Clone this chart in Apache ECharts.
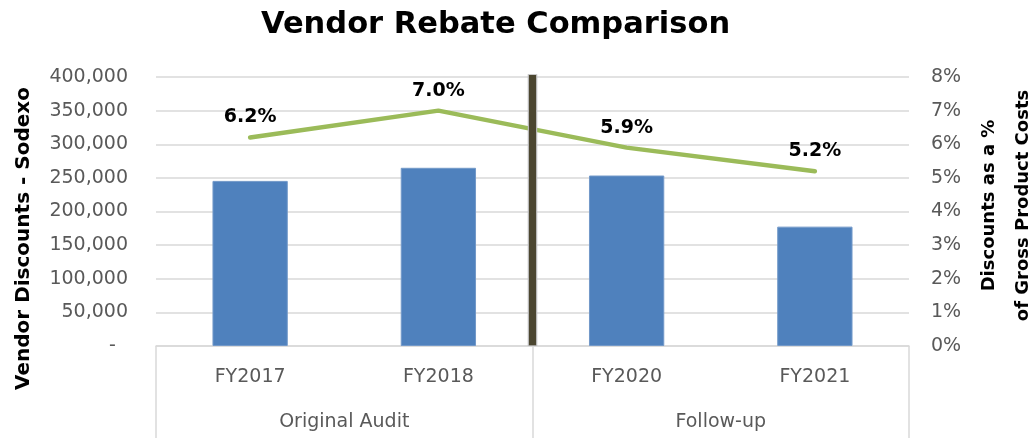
<!DOCTYPE html>
<html>
<head>
<meta charset="utf-8">
<script src="https://cdn.jsdelivr.net/npm/echarts@6/dist/echarts.min.js"></script>
<style>
  html, body { margin: 0; padding: 0; background: #fff; }
  #chart { width: 1033px; height: 438px; }
</style>
</head>
<body>
<div id="chart"></div>
<script>
// values
const years = ['FY2017', 'FY2018', 'FY2020', 'FY2021'];
const groups = ['Original Audit', 'Follow-up'];
const discounts = [245500, 265000, 253500, 177500];
const discountPct = [6.2, 7.0, 5.9, 5.2];
const dividerAt = 2; // boundary between the two groups (category units)

const font = 'DejaVu Sans';
const grey = '#595959';
const gridGrey = '#d9d9d9';

let myChart = echarts.init(document.getElementById('chart'));

myChart.setOption({
  animation: false,
  textStyle: { fontFamily: font },
  title: {
    text: 'Vendor Rebate Comparison',
    left: 256,
    top: 5,
    textStyle: { fontFamily: font, fontSize: 30.5, fontWeight: 'bold', color: '#000' }
  },
  grid: { left: 156, right: 124, top: 77, bottom: 92, outerBoundsMode: 'none' },
  xAxis: [
    {
      type: 'category',
      data: years,
      axisLine: { lineStyle: { color: gridGrey, width: 1.5 } },
      axisTick: { show: false },
      axisLabel: { margin: 22, fontSize: 19, color: grey, fontFamily: font }
    },
    {
      type: 'category',
      data: groups,
      position: 'bottom',
      axisLine: { show: false },
      axisTick: { show: true, length: 92, lineStyle: { color: gridGrey, width: 1.5 } },
      axisLabel: { margin: 67, fontSize: 19, color: grey, fontFamily: font }
    },
    {
      // hidden axis used only to place the divider between the groups
      type: 'value',
      min: 0,
      max: years.length,
      show: false
    }
  ],
  yAxis: [
    {
      type: 'value',
      min: 0,
      max: 400000,
      interval: 50000,
      name: 'Vendor Discounts - Sodexo',
      nameLocation: 'middle',
      nameRotate: 90,
      nameGap: 122,
      nameTextStyle: { fontFamily: font, fontSize: 20, fontWeight: 'bold', color: '#000', padding: [0, 54, 0, 0] },
      axisLine: { show: false },
      axisTick: { show: false },
      splitLine: { lineStyle: { color: gridGrey, width: 1.5 } },
      axisLabel: {
        margin: 28,
        fontSize: 19,
        color: grey,
        fontFamily: font,
        formatter: function (v) {
          return v === 0 ? '-  ' : v.toLocaleString('en-US');
        }
      }
    },
    {
      type: 'value',
      min: 0,
      max: 8,
      interval: 1,
      position: 'right',
      name: 'Discounts as a %\nof Gross Product Costs',
      nameLocation: 'middle',
      nameRotate: 90,
      nameGap: 56,
      nameTextStyle: { fontFamily: font, fontSize: 18, fontWeight: 'bold', color: '#000', lineHeight: 34, padding: [0, 0, 0, 12] },
      axisLine: { show: false },
      axisTick: { show: false },
      splitLine: { show: false },
      axisLabel: {
        margin: 22,
        fontSize: 19,
        color: grey,
        fontFamily: font,
        formatter: '{value}%'
      }
    }
  ],
  series: [
    {
      name: 'Vendor Discounts',
      type: 'bar',
      xAxisIndex: 0,
      yAxisIndex: 0,
      barWidth: '40%',
      data: discounts,
      itemStyle: { color: '#4f81bd', borderColor: '#7399c9', borderWidth: 1 }
    },
    {
      name: 'Discount %',
      type: 'line',
      xAxisIndex: 0,
      yAxisIndex: 1,
      data: discountPct,
      showSymbol: true,
      symbol: 'circle',
      symbolSize: 1,
      itemStyle: { color: 'rgba(0,0,0,0)' },
      lineStyle: { color: '#9bbb59', width: 4.5, cap: 'round' },
      label: {
        show: true,
        position: 'top',
        distance: 10,
        fontFamily: font,
        fontSize: 19,
        fontWeight: 'bold',
        color: '#000',
        formatter: function (p) { return p.value.toFixed(1) + '%'; }
      },
      z: 3
    },
    {
      name: 'divider-border',
      type: 'line',
      xAxisIndex: 2,
      yAxisIndex: 0,
      data: [[dividerAt, 0], [dividerAt, 404000]],
      showSymbol: false,
      symbol: 'none',
      clip: false,
      silent: true,
      lineStyle: { color: '#b8b8b8', width: 9.5, cap: 'butt' },
      z: 5
    },
    {
      name: 'divider',
      type: 'line',
      xAxisIndex: 2,
      yAxisIndex: 0,
      data: [[dividerAt, 1000], [dividerAt, 403000]],
      showSymbol: false,
      symbol: 'none',
      clip: false,
      silent: true,
      lineStyle: { color: '#4b4630', width: 7, cap: 'butt' },
      z: 6
    }
  ]
});
</script>
</body>
</html>
